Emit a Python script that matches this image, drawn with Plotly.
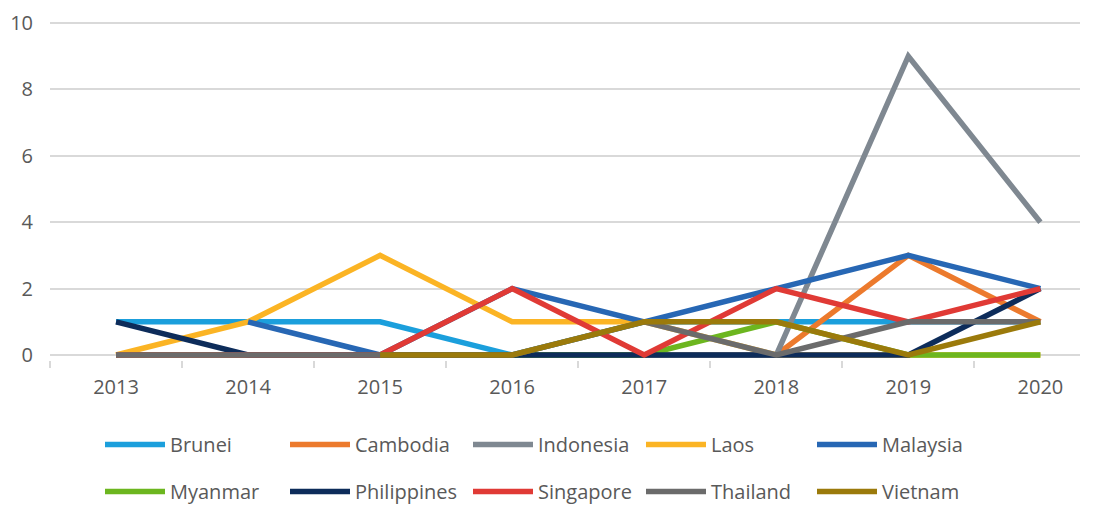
import plotly.graph_objects as go

years = ["2013", "2014", "2015", "2016", "2017", "2018", "2019", "2020"]

brunei      = [1, 1, 1, 0, 1, 1, 1, 1]
cambodia    = [0, 0, 0, 0, 0, 0, 3, 1]
indonesia   = [0, 0, 0, 0, 0, 0, 9, 4]
laos        = [0, 1, 3, 1, 1, 0, 0, 0]
malaysia    = [None, 1, 0, 2, 1, 2, 3, 2]
myanmar     = [0, 0, 0, 0, 0, 1, 0, 0]
philippines = [1, 0, 0, 0, 0, 0, 0, 2]
singapore   = [0, 0, 0, 2, 0, 2, 1, 2]
thailand    = [0, 0, 0, 0, 1, 0, 1, 1]
vietnam     = [None, None, 0, 0, 1, 1, 0, 1]

series = [
    ("Brunei", brunei, "#1b9fdc"),
    ("Cambodia", cambodia, "#ec7a2d"),
    ("Indonesia", indonesia, "#7f8891"),
    ("Laos", laos, "#fbb424"),
    ("Malaysia", malaysia, "#2767b4"),
    ("Myanmar", myanmar, "#6cb61f"),
    ("Philippines", philippines, "#0d2c5a"),
    ("Singapore", singapore, "#e03a35"),
    ("Thailand", thailand, "#6b6b6b"),
    ("Vietnam", vietnam, "#9b7a0b"),
]

FONT = "Open Sans"
TXT = "#595959"
FS = 20

# legend columns: text-start x (figure px); row 1 = first five, row 2 = last five
col_text_x = [164, 349, 532, 705, 876]
legend_names = ["legend", "legend2", "legend3", "legend4", "legend5"]

fig = go.Figure()
for i, (name, vals, col) in enumerate(series):
    fig.add_trace(go.Scatter(
        x=years, y=vals, name=name, mode="lines",
        line=dict(color=col, width=5.5),
        legend=legend_names[i % 5], legendgroup=name,
        legendrank=i // 5,
    ))

layout_legends = {}
for c, ln in enumerate(legend_names):
    layout_legends[ln] = dict(
        xref="container", yref="container",
        x=(col_text_x[c] - 72) / 1096, xanchor="left",
        y=1 - 417 / 506, yanchor="top",
        orientation="v", tracegroupgap=18,
        font=dict(family=FONT, size=FS, color=TXT),
        bgcolor="rgba(0,0,0,0)", itemwidth=60,
    )

fig.update_layout(
    width=1096, height=506,
    margin=dict(l=42, r=24, t=10, b=154, autoexpand=False),
    paper_bgcolor="white", plot_bgcolor="white",
    font=dict(family=FONT, size=FS, color=TXT),
    showlegend=True,
    xaxis=dict(
        type="category", range=[-0.5, 7.3],
        showgrid=False, zeroline=False, showline=False,
        ticks="outside", tickson="boundaries", ticklen=7,
        tickcolor="#d9d9d9", tickwidth=1.5,
        ticklabelstandoff=13, automargin=False,
        tickfont=dict(family=FONT, size=FS, color=TXT),
    ),
    yaxis=dict(
        range=[-0.15, 10.15], tickvals=[0, 2, 4, 6, 8, 10],
        showgrid=True, gridcolor="#d9d9d9", gridwidth=1.5,
        zeroline=True, zerolinecolor="#d9d9d9", zerolinewidth=1.5,
        showline=False, ticks="", ticklabelstandoff=16, automargin=False,
        tickfont=dict(family=FONT, size=FS, color=TXT),
    ),
    **layout_legends,
)

fig.write_html("out.html")
